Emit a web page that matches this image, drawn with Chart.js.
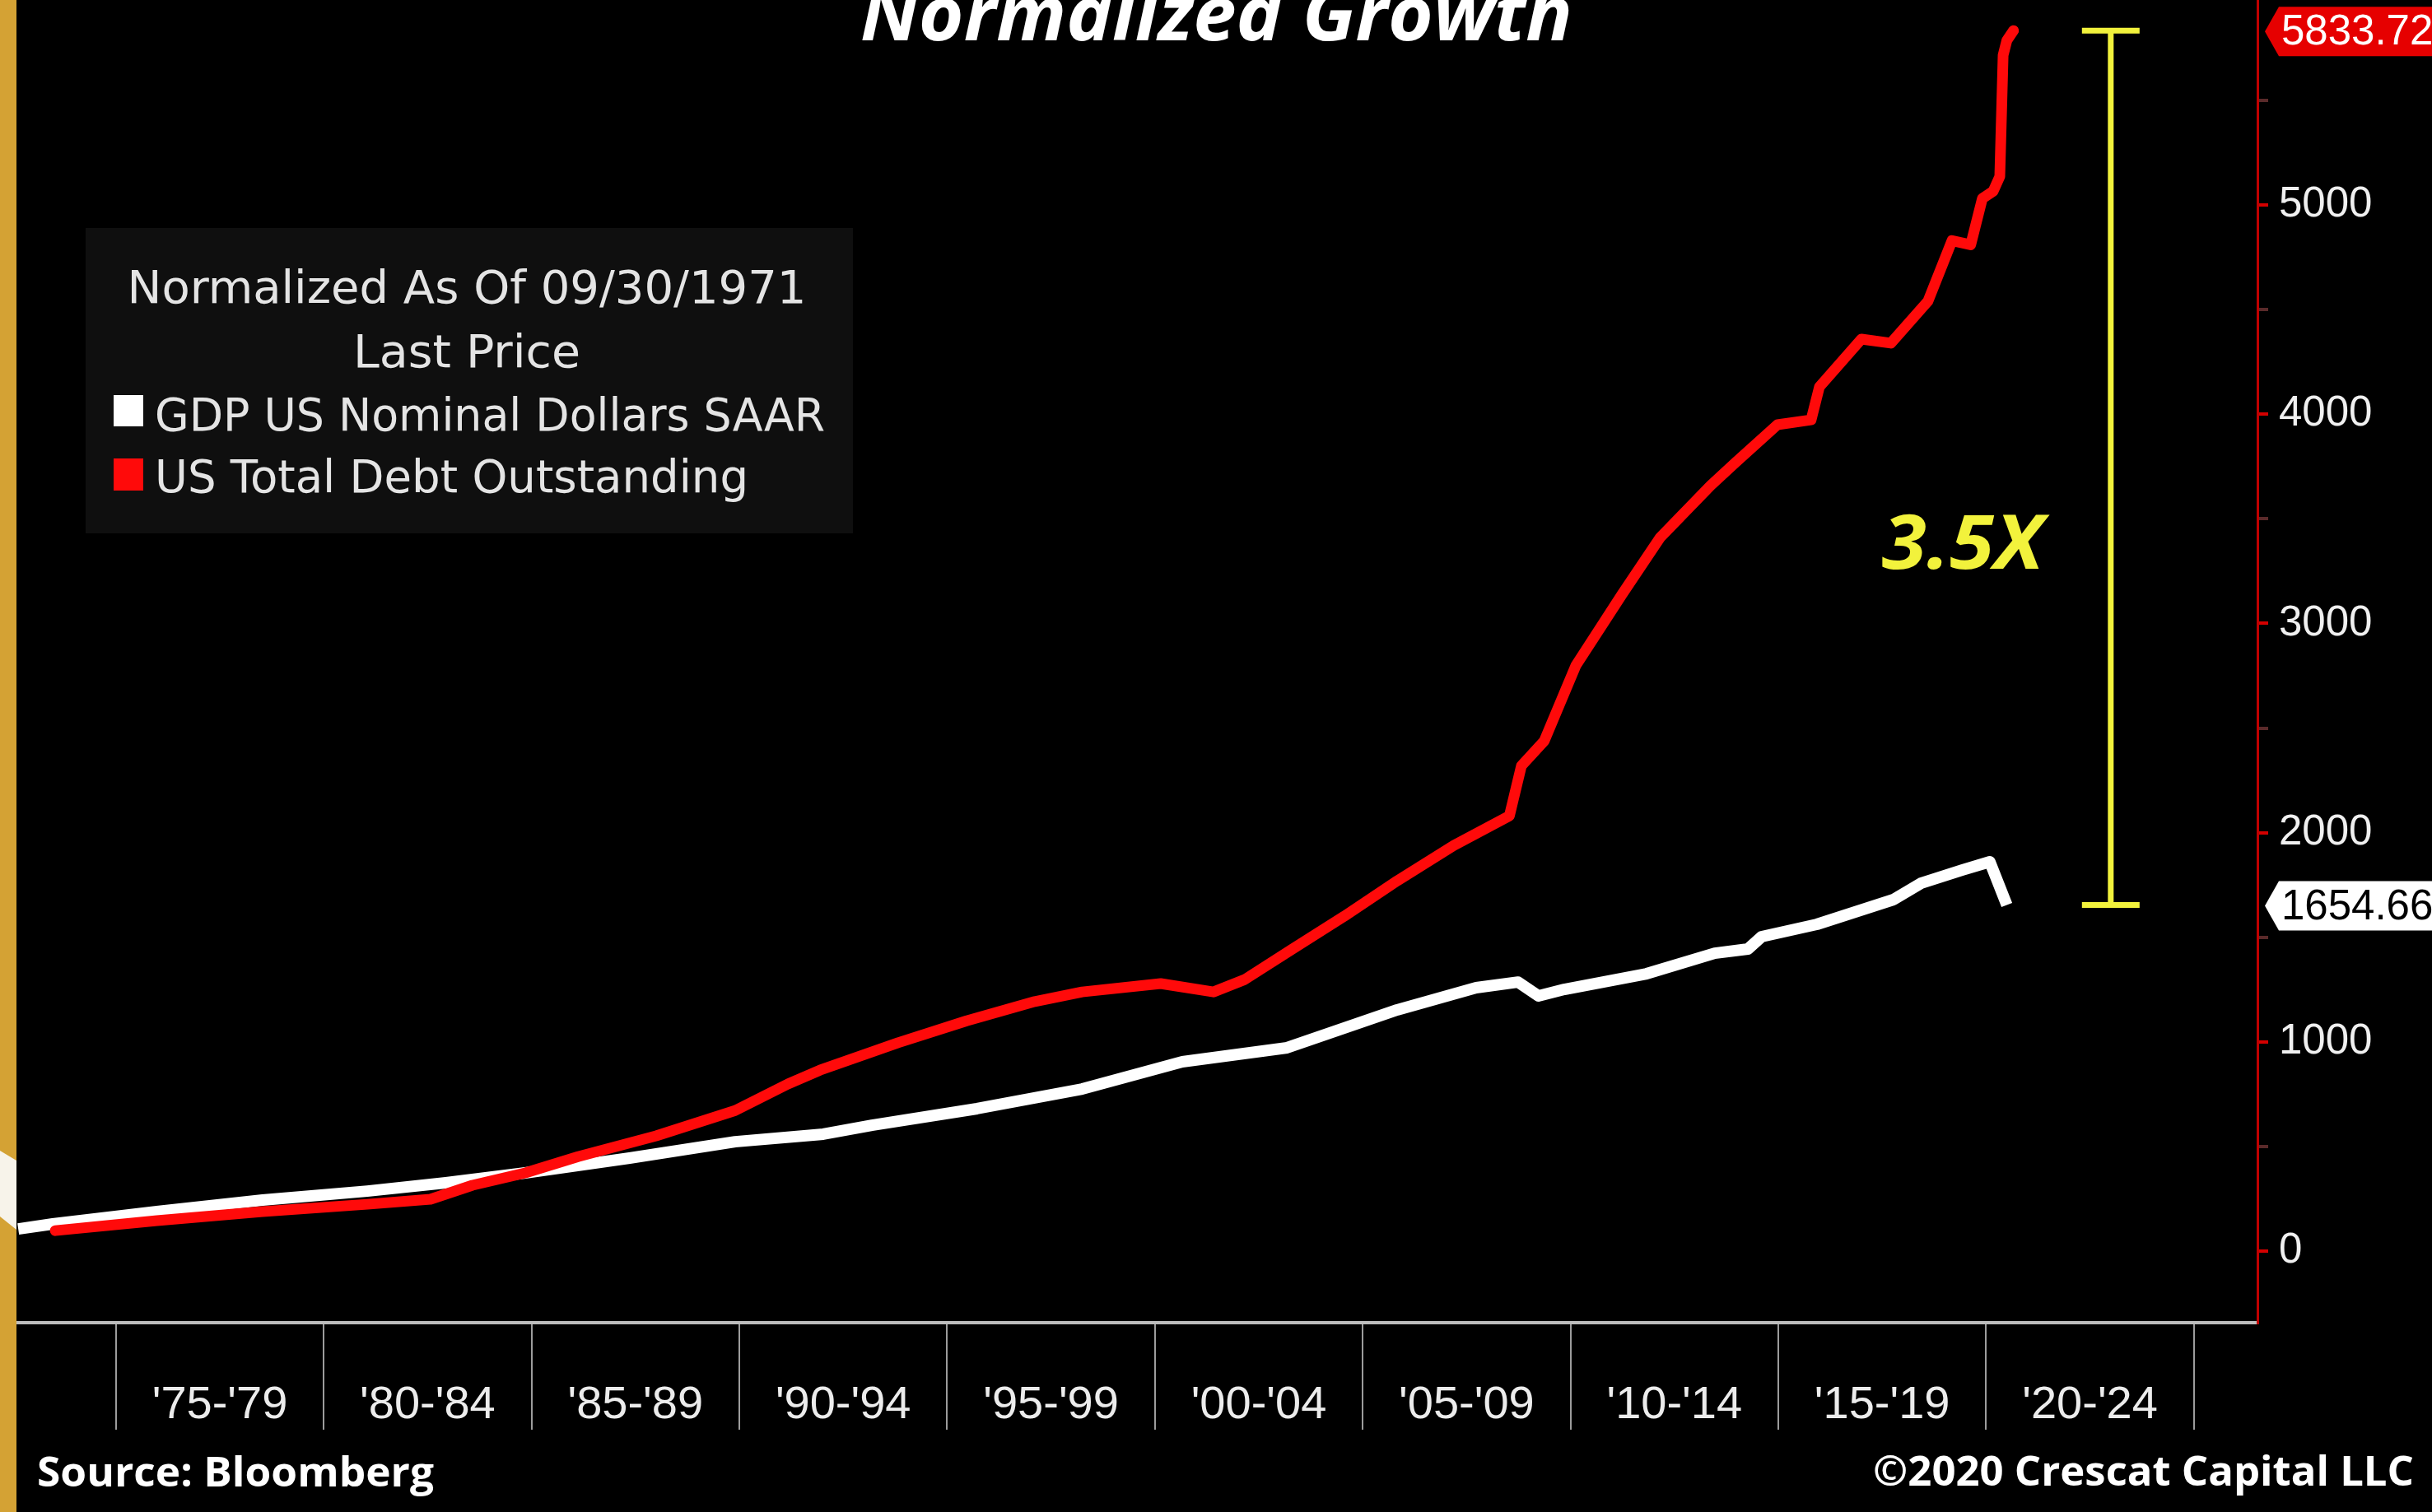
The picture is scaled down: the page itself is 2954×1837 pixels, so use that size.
<!DOCTYPE html>
<html>
<head>
<meta charset="utf-8">
<script src="https://cdn.jsdelivr.net/npm/chart.js@4.4.1/dist/chart.umd.min.js"></script>
<style>
html,body{margin:0;padding:0;background:#000;overflow:hidden;}
#wrap{position:relative;width:2954px;height:1837px;}
canvas{display:block;}
</style>
</head>
<body>
<div id="wrap"><canvas id="c" width="2954" height="1837" style="width:2954px;height:1837px"></canvas></div>
<script>
// ---------- DATA ----------
const chartTitle = 'Normalized Growth';
const legendTitleLines = ['Normalized As Of 09/30/1971', 'Last Price'];
const seriesNames = ['GDP US Nominal Dollars SAAR', 'US Total Debt Outstanding'];

const gdpYears  = [1972.65, 1973.48, 1975.99, 1978.53, 1981.05, 1982.94, 1984.85, 1987.36, 1989.90, 1992.02, 1993.19, 1995.72, 1998.25, 2000.66, 2003.18, 2005.83, 2007.73, 2008.74, 2009.23, 2009.85, 2011.83, 2013.47, 2014.27, 2014.60, 2015.93, 2017.77, 2018.43, 2019.42, 2020.09, 2020.50];
const gdpValues = [106, 130, 189, 244, 287, 327, 374, 445, 523, 559, 602, 681, 775, 905, 972, 1153, 1259, 1286, 1220, 1251, 1326, 1424, 1444, 1503, 1562, 1680, 1758, 1821, 1861, 1654.66];

const debtYears  = [1973.54, 1975.99, 1978.53, 1981.05, 1982.57, 1983.58, 1984.85, 1986.12, 1988.00, 1989.90, 1991.17, 1991.94, 1993.82, 1995.47, 1997.11, 1998.25, 2000.14, 2001.41, 2002.16, 2003.31, 2004.56, 2005.83, 2007.19, 2008.53, 2008.82, 2009.37, 2010.13, 2011.24, 2012.15, 2013.37, 2013.97, 2014.98, 2015.79, 2015.99, 2017.00, 2017.71, 2018.60, 2019.18, 2019.63, 2019.91, 2020.17, 2020.33, 2020.41, 2020.50, 2020.66];
const debtValues = [98, 146, 189, 224, 248, 315, 374, 452, 551, 672, 799, 865, 996, 1101, 1193, 1239, 1279, 1239, 1298, 1444, 1601, 1770, 1939, 2080, 2320, 2439, 2799, 3139, 3409, 3659, 3769, 3950, 3973, 4131, 4359, 4340, 4540, 4830, 4810, 5031, 5066, 5137, 5716, 5787, 5833.72];

const separatorYears = [1975, 1980, 1985, 1990, 1995, 2000, 2005, 2010, 2015, 2020, 2025];
const periodStarts   = [1975, 1980, 1985, 1990, 1995, 2000, 2005, 2010, 2015, 2020];
const periodLabels   = ["'75-'79", "'80-'84", "'85-'89", "'90-'94", "'95-'99", "'00-'04", "'05-'09", "'10-'14", "'15-'19", "'20-'24"];
const yTickValues    = [0, 500, 1000, 1500, 2000, 2500, 3000, 3500, 4000, 4500, 5000, 5500];

const ratioLabel = '3.5X';
const sourceText = 'Source: Bloomberg';
const copyrightText = '\u00A92020 Crescat Capital LLC';

// ---------- STYLE ----------
const RED = '#ff0a0a';
const WHITE = '#ffffff';
const YELLOW = '#f2f23c';
const GOLD = '#d4a234';

function fitText(c, text, x, y, w, align) {
  c.save();
  c.textAlign = 'left';
  const m = c.measureText(text).width;
  const sx = w / m;
  let left = x;
  if (align === 'center') left = x - w / 2;
  else if (align === 'right') left = x - w;
  c.translate(left, y);
  c.scale(sx, 1);
  c.fillText(text, 0, 0);
  c.restore();
}

const overlay = {
  id: 'overlay',
  beforeDraw(chart) {
    const c = chart.ctx;
    c.save();
    c.fillStyle = '#000';
    c.fillRect(0, 0, chart.width, chart.height);
    c.restore();
  },
  afterDraw(chart) {
    const c = chart.ctx, xs = chart.scales.x, ys = chart.scales.y;
    c.save();
    c.textBaseline = 'alphabetic';

    // Title (cropped at top)
    c.fillStyle = '#ffffff';
    c.font = 'italic bold 92px "Open Sans", "Liberation Sans", sans-serif';
    fitText(c, chartTitle, 1045, 49, 865, 'left');

    // Period labels on x axis
    c.fillStyle = '#ececec';
    c.font = '56px "Liberation Sans", Arial, sans-serif';
    c.textAlign = 'center';
    periodStarts.forEach((s, i) => {
      const x = (xs.getPixelForValue(s) + xs.getPixelForValue(s + 5)) / 2;
      c.fillText(periodLabels[i], x, 1723);
    });

    // Legend box
    c.fillStyle = '#0f0f0f';
    c.fillRect(104, 277, 932, 371);
    c.fillStyle = '#e4e4e4';
    c.font = '56px "DejaVu Sans", sans-serif';
    fitText(c, legendTitleLines[0], 567, 368, 825, 'center');
    fitText(c, legendTitleLines[1], 567, 446, 276, 'center');
    const ds = chart.data.datasets;
    c.fillStyle = ds[0].borderColor; c.fillRect(138, 480, 36, 38);
    c.fillStyle = ds[1].borderColor; c.fillRect(138, 557, 36, 39);
    c.fillStyle = '#e4e4e4';
    fitText(c, seriesNames[0], 188, 523, 814, 'left');
    fitText(c, seriesNames[1], 188, 598, 721, 'left');

    // Bracket showing the ratio
    const lastDebt = debtValues[debtValues.length - 1];
    const lastGdp = gdpValues[gdpValues.length - 1];
    const bx = xs.getPixelForValue(2023.0);
    const yTop = ys.getPixelForValue(lastDebt);
    const yBot = ys.getPixelForValue(lastGdp);
    c.strokeStyle = YELLOW;
    c.lineWidth = 7;
    c.beginPath();
    c.moveTo(bx, yTop); c.lineTo(bx, yBot);
    c.moveTo(bx - 35, yTop); c.lineTo(bx + 35, yTop);
    c.moveTo(bx - 35, yBot); c.lineTo(bx + 35, yBot);
    c.stroke();
    c.fillStyle = YELLOW;
    c.font = 'italic bold 92px "Open Sans", "Liberation Sans", sans-serif';
    fitText(c, ratioLabel, bx - 82, 691, 196, 'right');

    // Last value tags on the right axis
    function tag(val, fill, textColor) {
      const cy = ys.getPixelForValue(val) + 1;
      const ax = chart.chartArea.right + 9;
      c.fillStyle = fill;
      c.beginPath();
      c.moveTo(ax, cy);
      c.lineTo(ax + 17, cy - 30);
      c.lineTo(chart.width + 10, cy - 30);
      c.lineTo(chart.width + 10, cy + 30);
      c.lineTo(ax + 17, cy + 30);
      c.closePath();
      c.fill();
      c.fillStyle = textColor;
      c.font = '51px "Liberation Sans", Arial, sans-serif';
      c.textAlign = 'left';
      c.textBaseline = 'middle';
      c.fillText(val.toFixed(2), ax + 20, cy + 2);
      c.textBaseline = 'alphabetic';
    }
    tag(lastDebt, '#e60000', '#ffffff');
    tag(lastGdp, '#ffffff', '#000000');

    // Footer
    c.fillStyle = '#ffffff';
    c.font = 'bold 50px "Open Sans", "Liberation Sans", sans-serif';
    fitText(c, sourceText, 45, 1806, 482, 'left');
    fitText(c, copyrightText, 2932, 1805, 657, 'right');

    // Gold border with white swoosh
    c.fillStyle = GOLD;
    c.fillRect(0, 0, 20, chart.height);
    c.fillStyle = '#f7f3ea';
    c.beginPath();
    c.moveTo(0, 1398); c.lineTo(20, 1410); c.lineTo(20, 1494); c.lineTo(0, 1478);
    c.closePath();
    c.fill();

    c.restore();
  }
};

new Chart(document.getElementById('c').getContext('2d'), {
  type: 'line',
  data: {
    datasets: [
      {
        label: seriesNames[0],
        data: gdpYears.map((x, i) => ({ x: x, y: gdpValues[i] })),
        borderColor: WHITE,
        borderWidth: 14,
        pointRadius: 0,
        tension: 0,
        borderJoinStyle: 'round',
        borderCapStyle: 'butt',
        order: 2
      },
      {
        label: seriesNames[1],
        data: debtYears.map((x, i) => ({ x: x, y: debtValues[i] })),
        borderColor: RED,
        borderWidth: 13,
        pointRadius: 0,
        tension: 0,
        borderJoinStyle: 'round',
        borderCapStyle: 'round',
        order: 1
      }
    ]
  },
  options: {
    responsive: false,
    animation: false,
    devicePixelRatio: 1,
    layout: { padding: { left: 20, top: 0, right: 0, bottom: 0 } },
    plugins: { legend: { display: false }, tooltip: { enabled: false }, title: { display: false } },
    scales: {
      x: {
        type: 'linear',
        position: 'bottom',
        min: 1972.607,
        max: 2026.53,
        afterBuildTicks: s => { s.ticks = separatorYears.map(v => ({ value: v })); },
        afterFit: s => { s.height = 230; s.paddingLeft = 0; s.paddingRight = 0; },
        ticks: { display: false },
        grid: { drawOnChartArea: false, drawTicks: true, tickLength: 130, color: '#9c9c9c', lineWidth: 2 },
        border: { display: true, color: '#bdbdbd', width: 4 }
      },
      y: {
        type: 'linear',
        position: 'right',
        min: -342,
        max: 5980,
        afterBuildTicks: s => { s.ticks = yTickValues.map(v => ({ value: v })); },
        afterFit: s => { s.width = 212; s.paddingTop = 0; s.paddingBottom = 0; },
        ticks: {
          color: '#f0f0f0',
          font: { family: '"Liberation Sans", Arial, sans-serif', size: 51 },
          padding: 13,
          callback: v => (v % 1000 === 0 ? String(v) : '')
        },
        grid: {
          drawOnChartArea: false,
          drawTicks: true,
          tickLength: 13,
          lineWidth: 4,
          color: ctx => (ctx.tick && ctx.tick.value % 1000 === 0 ? '#d40000' : '#5a2a2a')
        },
        border: { display: true, color: '#c00000', width: 3 }
      }
    }
  },
  plugins: [overlay]
});
</script>
</body>
</html>
